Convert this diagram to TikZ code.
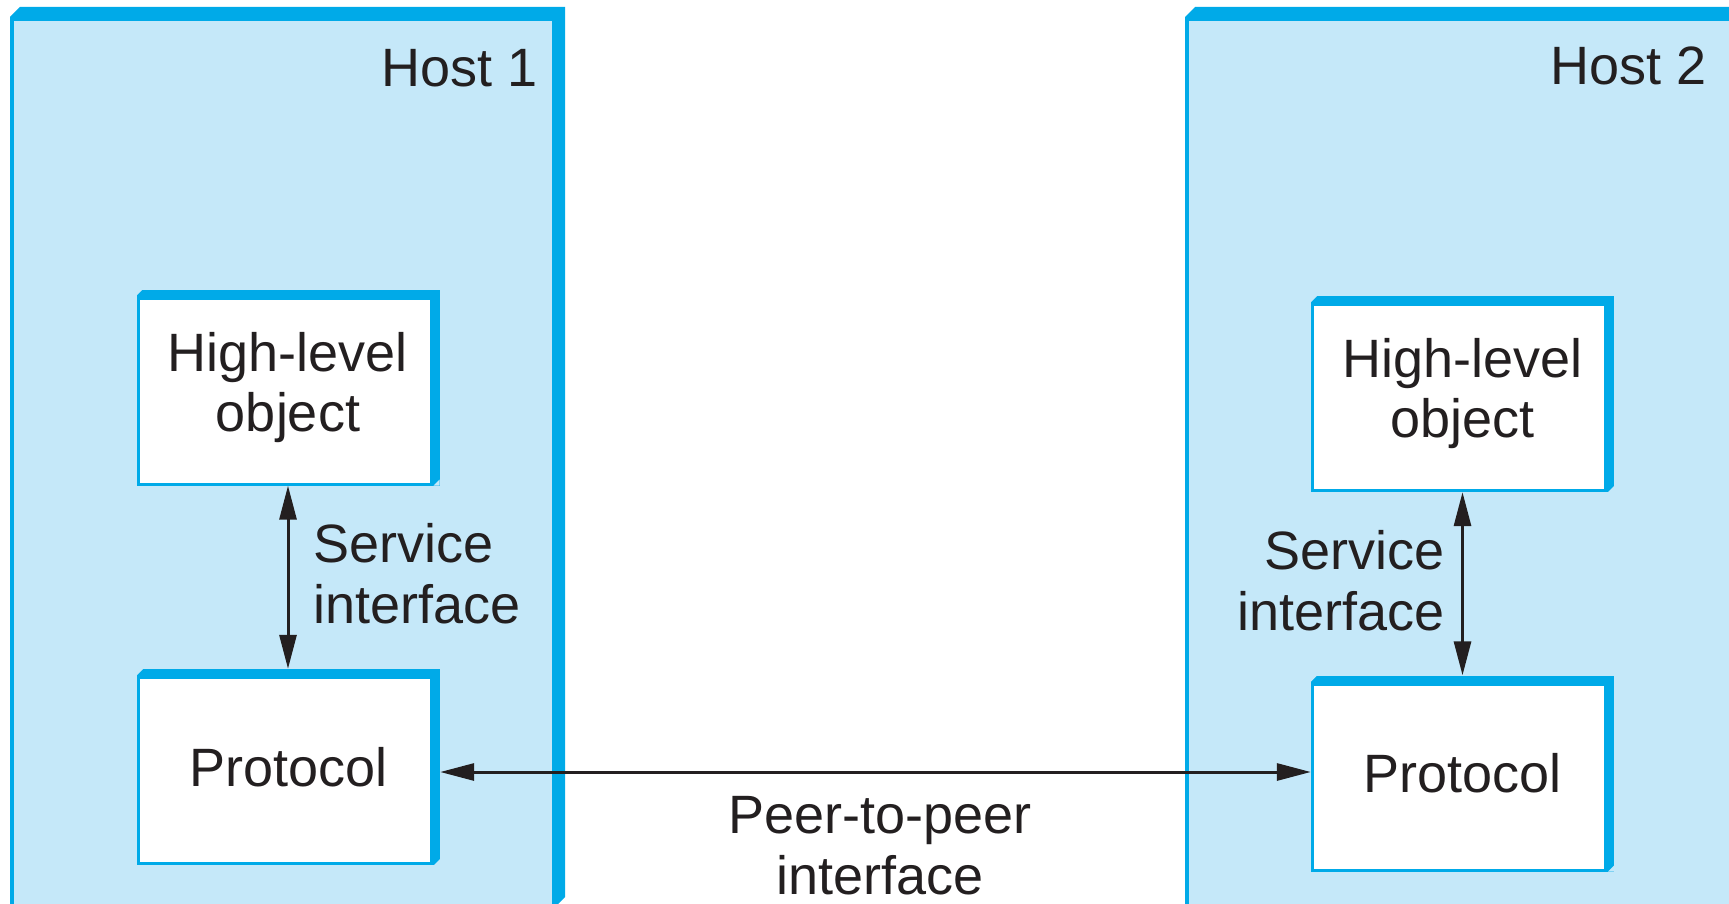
\documentclass[tikz,border=0pt]{standalone}
\usepackage{fontspec}
\setmainfont{Liberation Sans}
\usetikzlibrary{arrows.meta,calc}
\definecolor{hostfill}{RGB}{197,232,249}
\definecolor{edgeblue}{RGB}{0,170,232}
\definecolor{arrowc}{RGB}{35,31,32}
\begin{document}
\begin{tikzpicture}[x=1pt,y=-1pt,
  lbl/.style={font=\fontsize{54}{61}\selectfont, text=arrowc, inner sep=0pt},
  box/.style={rectangle, fill=edgeblue, inner sep=0pt, align=center,
    minimum width=303pt, minimum height=196pt,
    font=\fontsize{54}{60}\selectfont, text=arrowc,
    path picture={
      \fill[white] ([xshift=3pt,yshift=-10pt]path picture bounding box.north west) rectangle ([xshift=-10pt,yshift=3pt]path picture bounding box.south east);
      \fill[hostfill] (path picture bounding box.north west) -- ++(6,0) -- ++(-6,6) -- cycle;
      \fill[hostfill] (path picture bounding box.south east) -- ++(-6,0) -- ++(6,-6) -- cycle;
    }},
  arr/.style={{Triangle[length=34pt,width=17pt]}-{Triangle[length=34pt,width=17pt]}, line width=3pt, draw=arrowc}]
\useasboundingbox (0,0) rectangle (1729,904);
\fill[white] (0,0) rectangle (1729,904);
% Host 1
\fill[edgeblue] (10,17) -- (20,7) -- (565,7) -- (565,897) -- (558,904) -- (10,904) -- cycle;
\fill[hostfill] (14,21) rectangle (552,904);
% Host 2
\fill[edgeblue] (1185,17) -- (1195,7) -- (1729,7) -- (1729,904) -- (1185,904) -- cycle;
\fill[hostfill] (1189,21) rectangle (1729,904);

\node[lbl, anchor=base east] (host1) at (538,87) {Host 1};
\node[lbl, anchor=base east] (host2) at (1707,85) {Host 2};

\node[box] (h1o) at (288,387.5) {High-level\\object};
\node[box] (h1p) at (288.5,767) {Protocol};
\node[box] (h2o) at (1462.5,394) {High-level\\object};
\node[box] (h2p) at (1462.5,773.5) {Protocol};

\draw[arr] (h1o.south) -- (h1o.south |- h1p.north);
\draw[arr] (h2o.south) -- (h2o.south |- h2p.north);
\draw[arr] (h1p.east |- 0,772) -- (h2p.west |- 0,772);

\node[lbl, anchor=west, align=left] (s1) at (313,574) {Service\\interface};
\node[lbl, anchor=east, align=right] (s2) at (1445,581) {Service\\interface};
\node[lbl, align=center] (p2p) at (880,846) {Peer-to-peer\\interface};
\end{tikzpicture}
\end{document}
